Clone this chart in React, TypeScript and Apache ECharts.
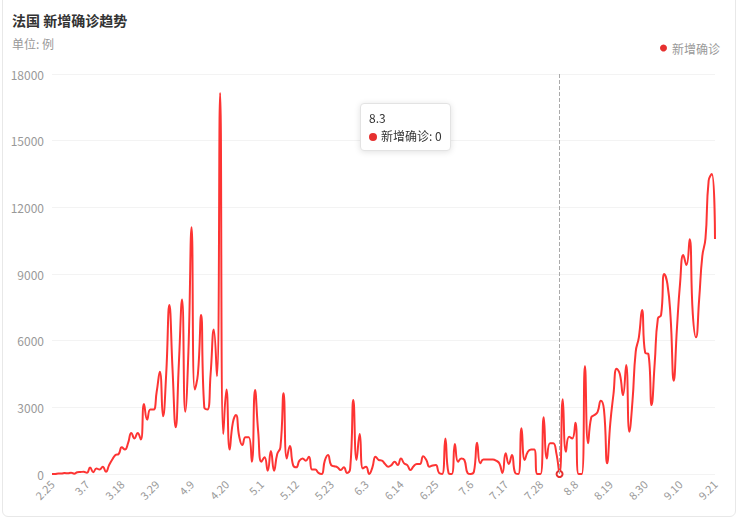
import React, { useEffect, useRef } from "react";
import * as echarts from "echarts";

// month lengths used only to build the date category labels (M.D)
const monthStarts: [number, number, number][] = [
  [2, 25, 29],
  [3, 1, 31],
  [4, 1, 30],
  [5, 1, 31],
  [6, 1, 30],
  [7, 1, 31],
  [8, 1, 31],
  [9, 1, 21],
];
const categories: string[] = [];
monthStarts.forEach(([m, s, e]) => {
  for (let d = s; d <= e; d++) categories.push(`${m}.${d}`);
});

const febValues = [2, 4, 20, 19, 43];
const marValues = [
  30, 61, 13, 80, 90, 100, 60, 290, 80, 250, 200, 330, 100, 400, 650, 850, 900, 1200, 1100, 1400,
  1850, 1600, 1850, 1550, 3150, 2450, 2900, 2900, 3700, 4600, 2600,
];
const aprValues = [
  4500, 7600, 4700, 2100, 5000, 7850, 2800, 5500, 11100, 3800, 4500, 7150, 3000, 2900, 4500, 6500,
  4400, 17150, 1800, 3800, 1100, 2300, 2650, 1700, 1300, 1650, 1650, 550, 3780, 1900,
];
const mayValues = [
  550, 750, 150, 1030, 150, 900, 1200, 3630, 700, 1260, 400, 300, 600, 700, 600, 780, 200, 200, 50,
  0, 600, 850, 400, 350, 300, 180, 300, 50, 250, 3330, 630,
];
const junValues = [
  1800, 250, 330, 0, 300, 780, 630, 600, 450, 330, 400, 555, 400, 700, 480, 400, 180, 350, 450, 450,
  800, 630, 330, 380, 400, 50, 0, 1600, 50, 0,
];
const julValues = [
  1350, 555, 700, 630, 50, 0, 100, 1410, 480, 650, 650, 650, 650, 600, 480, 50, 930, 450, 850, 50, 0,
  2060, 630, 1000, 1100, 1100, 0, 0, 2550, 700, 1380,
];
const augValues = [
  1380, 930, 0, 3360, 1000, 1680, 1600, 2310, 0, 0, 4860, 1380, 2550, 2650, 2800, 3300, 2900, 480,
  2300, 3600, 4740, 4500, 3550, 4900, 1900, 3300, 5500, 6150, 7380, 5450, 5400,
];
const sepValues = [
  3100, 5000, 7000, 7150, 9000, 8550, 7050, 4200, 6550, 8600, 9850, 9400, 10560, 7200, 6150, 7850,
  9800, 10600, 13200, 13500, 10570,
];
const newCases = [
  ...febValues,
  ...marValues,
  ...aprValues,
  ...mayValues,
  ...junValues,
  ...julValues,
  ...augValues,
  ...sepValues,
];

const yTicks = [0, 3000, 6000, 9000, 12000, 15000, 18000];
const seriesName = "新增确诊";
const tipDate = "8.3";
const lineColor = "#e6302f";

export default function App() {
  const ref = useRef<HTMLDivElement>(null);
  useEffect(() => {
    if (!ref.current) return;
    const chart = echarts.init(ref.current, undefined, { renderer: "svg" });
    const font = "'Microsoft YaHei', 'Noto Sans CJK SC', sans-serif";
    chart.setOption({
      animation: false,
      textStyle: { fontFamily: font },
      title: {
        text: "法国 新增确诊趋势",
        subtext: "单位: 例",
        left: 7,
        top: 8,
        itemGap: 11,
        textStyle: { fontSize: 14, fontWeight: "bold", color: "#333", fontFamily: font },
        subtextStyle: { fontSize: 12, color: "#999", fontFamily: font },
      },
      legend: {
        data: [seriesName],
        right: 19,
        top: 37,
        icon: "circle",
        itemWidth: 7,
        itemHeight: 7,
        itemGap: 10,
        textStyle: { fontSize: 12, color: "#999", fontFamily: font },
      },
      tooltip: {
        trigger: "axis",
        position: [360, 103],
        backgroundColor: "#fff",
        borderColor: "#e3e3e3",
        borderWidth: 1,
        padding: [5, 8],
        textStyle: { fontSize: 12, color: "#333", fontFamily: font },
        extraCssText: "box-shadow: 0 1px 6px rgba(0,0,0,0.12); border-radius: 4px; line-height: 18px;",
        axisPointer: {
          type: "line",
          lineStyle: { color: "#aaa", type: "dashed", width: 1 },
        },
        formatter: (params: any) => {
          const p = params[0];
          const dot = `<span style="display:inline-block;margin-right:4px;border-radius:50%;width:8px;height:8px;background-color:${p.color};"></span>`;
          return `${p.name}<br/>${dot}${p.seriesName}: ${p.value}`;
        },
      },
      grid: { left: 52, right: 29, top: 74, bottom: 44 },
      xAxis: {
        type: "category",
        data: categories,
        boundaryGap: false,
        axisLine: { show: false },
        axisTick: { show: false },
        axisLabel: { interval: 10, rotate: 45, color: "#999", fontSize: 11, margin: 8 },
      },
      yAxis: {
        type: "value",
        min: yTicks[0],
        max: yTicks[yTicks.length - 1],
        interval: 3000,
        axisLine: { show: false },
        axisTick: { show: false },
        axisLabel: { color: "#999", fontSize: 12, margin: 8, formatter: (v: number) => String(v) },
        splitLine: { lineStyle: { color: "#f3f3f3" } },
      },
      series: [
        {
          name: seriesName,
          type: "line",
          data: newCases,
          smooth: true,
          showSymbol: false,
          symbol: "emptyCircle",
          symbolSize: 4,
          itemStyle: { color: lineColor },
          lineStyle: { color: lineColor, width: 2 },
        },
      ],
    });
    chart.dispatchAction({
      type: "showTip",
      seriesIndex: 0,
      dataIndex: categories.indexOf(tipDate),
    });
    return () => chart.dispose();
  }, []);

  return (
    <div style={{ position: "fixed", left: 0, top: 0, width: 744, height: 518, background: "#fff", overflow: "hidden" }}>
      <div
        style={{
          position: "absolute",
          left: 2,
          top: -10,
          width: 734,
          height: 527,
          border: "1px solid #e8e8e8",
          borderRadius: 6,
          boxSizing: "border-box",
        }}
      />
      <div ref={ref} style={{ position: "absolute", left: 0, top: 0, width: 744, height: 518 }} />
    </div>
  );
}
